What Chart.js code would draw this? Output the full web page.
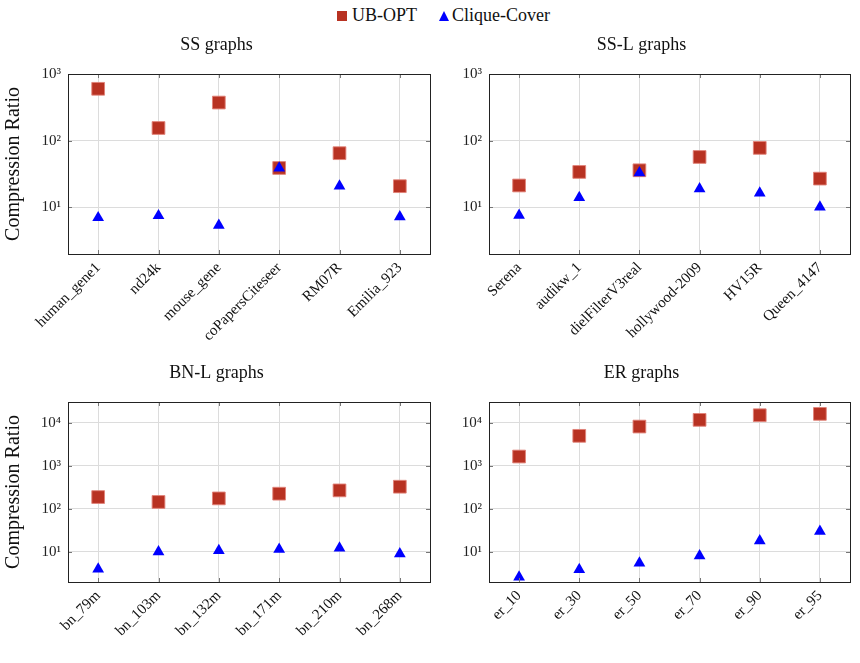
<!DOCTYPE html>
<html>
<head>
<meta charset="utf-8">
<script src="https://cdn.jsdelivr.net/npm/chart.js@4.4.1/dist/chart.umd.min.js"></script>
<style>
  html, body { margin: 0; padding: 0; background: #fff; }
  #wrap { position: relative; width: 860px; height: 663px; background: #fff; overflow: hidden; }
  canvas { position: absolute; }
  #legend { position: absolute; top: 2px; left: 0; width: 860px; height: 26px; font-family: "Liberation Serif", serif; font-size: 18px; color: #111; }
  .sq { position: absolute; left: 337px; top: 9px; width: 10px; height: 10px; background: #b83222; }
  .tri { position: absolute; left: 439px; top: 9px; width: 0; height: 0; border-left: 5.5px solid transparent; border-right: 5.5px solid transparent; border-bottom: 10px solid #0000ff; }
  .lt { position: absolute; top: 1px; line-height: 24px; }
</style>
</head>
<body>
<div id="wrap">
  <div id="legend">
    <div class="sq"></div><span class="lt" style="left:352px">UB-OPT</span>
    <div class="tri"></div><span class="lt" style="left:452px">Clique-Cover</span>
  </div>
  <canvas id="c1" width="440" height="330" style="left:0px;top:30px"></canvas>
  <canvas id="c2" width="430" height="330" style="left:430px;top:30px"></canvas>
  <canvas id="c3" width="440" height="330" style="left:0px;top:358px"></canvas>
  <canvas id="c4" width="430" height="330" style="left:430px;top:358px"></canvas>
</div>
<script>
// ---- data ----
const seriesNames = ['UB-OPT', 'Clique-Cover'];

const ssCategories = ['human_gene1', 'nd24k', 'mouse_gene', 'coPapersCiteseer', 'RM07R', 'Emilia_923'];
const ssUBOPT = [600, 155, 373, 39, 65, 20.8];
const ssCliqueCover = [7.0, 7.5, 5.4, 38.8, 20.8, 7.2];

const sslCategories = ['Serena', 'audikw_1', 'dielFilterV3real', 'hollywood-2009', 'HV15R', 'Queen_4147'];
const sslUBOPT = [21.3, 34, 36, 57, 78, 27];
const sslCliqueCover = [7.6, 14, 33, 19, 16.4, 10.1];

const bnlCategories = ['bn_79m', 'bn_103m', 'bn_132m', 'bn_171m', 'bn_210m', 'bn_268m'];
const bnlUBOPT = [187, 144, 174, 224, 267, 325];
const bnlCliqueCover = [4.0, 10, 10.7, 11.4, 12.2, 9.0];

const erCategories = ['er_10', 'er_30', 'er_50', 'er_70', 'er_90', 'er_95'];
const erUBOPT = [1630, 4920, 8080, 11550, 14800, 15900];
const erCliqueCover = [2.6, 3.9, 5.5, 8.1, 18, 30];

const topTickValues = [10, 100, 1000];
const bottomTickValues = [10, 100, 1000, 10000];
const tickLabels = { 10: '10¹', 100: '10²', 1000: '10³', 10000: '10⁴' };

const titles = ['SS graphs', 'SS-L graphs', 'BN-L graphs', 'ER graphs'];
const yTitle = 'Compression Ratio';

// ---- drawing ----
const FONT = '"Liberation Serif", "DejaVu Serif", serif';

const boxPlugin = {
  id: 'box',
  afterDraw(chart) {
    const { ctx, chartArea: a, scales } = chart;
    ctx.save();
    ctx.strokeStyle = '#777';
    ctx.lineWidth = 1;
    const tl = 4;
    scales.x.ticks.forEach((t, i) => {
      const px = Math.round(scales.x.getPixelForTick(i)) + 0.5;
      ctx.beginPath();
      ctx.moveTo(px, a.top); ctx.lineTo(px, a.top + tl);
      ctx.moveTo(px, a.bottom); ctx.lineTo(px, a.bottom - tl);
      ctx.stroke();
    });
    scales.y.ticks.forEach(t => {
      const py = Math.round(scales.y.getPixelForValue(t.value)) + 0.5;
      ctx.beginPath();
      ctx.moveTo(a.left, py); ctx.lineTo(a.left + tl, py);
      ctx.moveTo(a.right, py); ctx.lineTo(a.right - tl, py);
      ctx.stroke();
    });
    ctx.strokeStyle = '#222';
    ctx.strokeRect(Math.round(a.left) + 0.5, Math.round(a.top) + 0.5, Math.round(a.right - a.left), Math.round(a.bottom - a.top));
    ctx.restore();
  }
};

function makeChart(id, title, cats, ub, cc, yMax, tickVals, yAxisWidth, showYTitle) {
  const ctx = document.getElementById(id);
  return new Chart(ctx, {
    type: 'line',
    data: {
      labels: cats,
      datasets: [
        {
          label: seriesNames[0], data: ub, showLine: false, order: 2,
          pointStyle: 'rect', pointRadius: 9, pointHoverRadius: 9,
          backgroundColor: '#b83222', borderColor: 'rgba(225,130,120,0.9)', pointBorderWidth: 1
        },
        {
          label: seriesNames[1], data: cc, showLine: false, order: 1,
          pointStyle: 'triangle', pointRadius: 6.8, pointHoverRadius: 6.8,
          backgroundColor: '#0000ff', borderColor: '#0000ff', pointBorderWidth: 0
        }
      ]
    },
    options: {
      responsive: false,
      animation: false,
      events: [],
      layout: { padding: { top: 0, right: 7, bottom: 0, left: 0 } },
      plugins: {
        legend: { display: false },
        tooltip: { enabled: false },
        title: {
          display: true, text: title, color: '#111',
          font: { family: FONT, size: 18, weight: 'normal' },
          padding: { top: 4, bottom: 18.4 }
        }
      },
      scales: {
        x: {
          type: 'category', offset: true,
          grid: { display: true, color: '#dcdcdc', lineWidth: 1, drawTicks: false, offset: false },
          border: { display: false },
          ticks: {
            color: '#111', font: { family: FONT, size: 15 },
            minRotation: 45, maxRotation: 45, padding: 5, autoSkip: false
          },
          afterFit(scale) { scale.height = 106; }
        },
        y: {
          type: 'logarithmic', min: 2, max: yMax,
          grid: { display: true, color: '#dcdcdc', lineWidth: 1, drawTicks: false },
          border: { display: false },
          afterBuildTicks(scale) { scale.ticks = tickVals.map(v => ({ value: v })); },
          ticks: {
            color: '#222', font: { family: FONT, size: 15 }, padding: 7,
            callback: (v) => tickLabels[v] || ''
          },
          title: {
            display: showYTitle, text: yTitle, color: '#111',
            font: { family: FONT, size: 20 }, padding: { top: 2, bottom: 0 }
          },
          afterFit(scale) { scale.width = yAxisWidth; }
        }
      }
    },
    plugins: [boxPlugin]
  });
}

makeChart('c1', titles[0], ssCategories, ssUBOPT, ssCliqueCover, 1000, topTickValues, 68, true);
makeChart('c2', titles[1], sslCategories, sslUBOPT, sslCliqueCover, 1000, topTickValues, 59, false);
makeChart('c3', titles[2], bnlCategories, bnlUBOPT, bnlCliqueCover, 30000, bottomTickValues, 68, true);
makeChart('c4', titles[3], erCategories, erUBOPT, erCliqueCover, 30000, bottomTickValues, 59, false);
</script>
</body>
</html>
